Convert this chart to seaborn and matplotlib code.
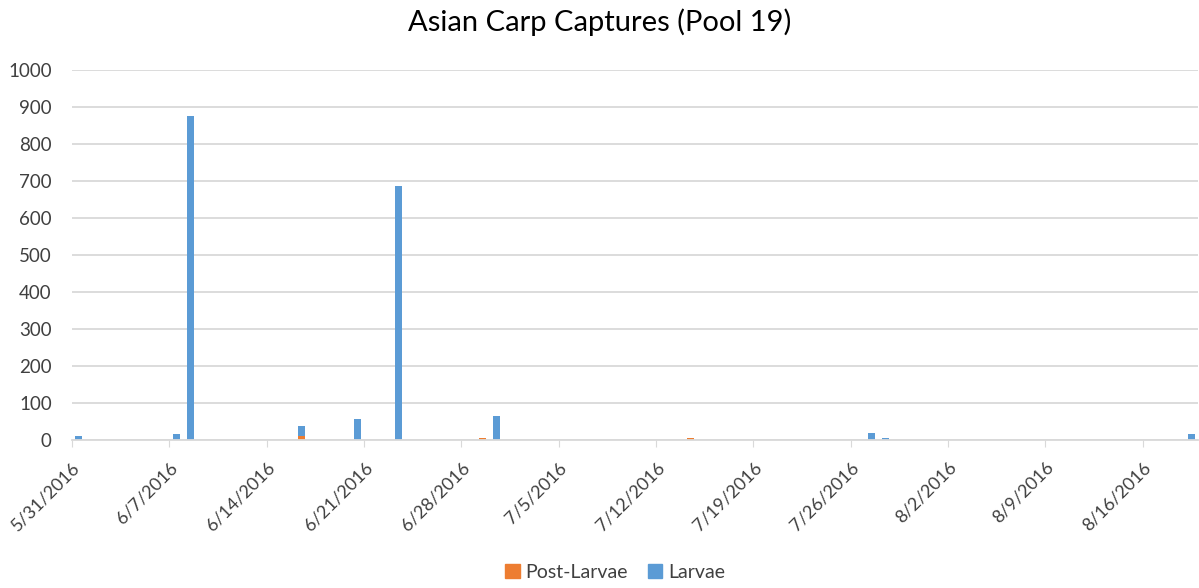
import numpy as np
import pandas as pd
import seaborn as sns
import matplotlib.pyplot as plt
from matplotlib.patches import Patch

# Dados (capturas por data)
datas = ['2016-05-31', '2016-06-07', '2016-06-08', '2016-06-16', '2016-06-20',
         '2016-06-23', '2016-06-29', '2016-06-30', '2016-07-14', '2016-07-27',
         '2016-07-28', '2016-08-19']
post_larvae = [0, 0, 0, 11, 0, 0, 4, 0, 4, 0, 0, 0]
larvae = [9, 16, 875, 26, 55, 685, 0, 65, 0, 18, 4, 16]

series = ['Post-Larvae', 'Larvae']
cores = {'Post-Larvae': '#ED7D31', 'Larvae': '#5B9BD5'}
rotulos_x = ['5/31/2016', '6/7/2016', '6/14/2016', '6/21/2016', '6/28/2016',
             '7/5/2016', '7/12/2016', '7/19/2016', '7/26/2016', '8/2/2016',
             '8/9/2016', '8/16/2016']
#--------------------------------------------------------------------------
inicio = pd.Timestamp('2016-05-31')
dias = np.asarray((pd.to_datetime(datas) - inicio).days)

df = pd.concat([
    pd.DataFrame({'dia': dias, 'n': post_larvae, 'serie': series[0]}),
    pd.DataFrame({'dia': dias, 'n': larvae, 'serie': series[1]}),
], ignore_index=True)

sns.set_style('white')
plt.rcParams['font.family'] = ['Lato', 'DejaVu Sans']

fig = plt.figure(figsize=(11.99, 5.88), dpi=100)
ax = fig.add_axes([0.060, 0.252, 0.9395, 0.629])

# pilha: primeiro nível do hue fica em cima, então a ordem é invertida
sns.histplot(data=df, x='dia', weights='n', hue='serie', hue_order=series[::-1],
             palette=cores, multiple='stack', binwidth=1, binrange=(0, 81),
             shrink=0.5, alpha=1, linewidth=0, legend=False, ax=ax)

ax.set_xlim(0, 81)
ax.set_ylim(0, 1000)
ax.set_yticks(np.arange(0, 1001, 100))
ax.yaxis.grid(True, color='#d9d9d9', linewidth=1.3)
ax.set_axisbelow(True)
for lado in ['top', 'right', 'left']:
    ax.spines[lado].set_visible(False)
ax.spines['bottom'].set_color('#d9d9d9')
ax.spines['bottom'].set_linewidth(1.3)

ax.set_xticks(np.arange(0, 81, 7))
ax.set_xticklabels(rotulos_x, rotation=45, ha='right', rotation_mode='anchor')
ax.tick_params(axis='x', bottom=True, length=5, color='#d9d9d9',
               labelsize=13, labelcolor='#404040', pad=9)
ax.tick_params(axis='y', left=False, labelsize=13.5, labelcolor='#404040', pad=11)
ax.set_xlabel('')
ax.set_ylabel('')

fig.suptitle('Asian Carp Captures (Pool 19)', fontsize=21, color='#000000', y=0.985)

handles = [Patch(color=cores[s], label=s) for s in series]
fig.legend(handles=handles, loc='lower center', bbox_to_anchor=(0.513, -0.018),
           ncol=2, frameon=False, fontsize=14, handlelength=0.75, handleheight=0.75,
           handletextpad=0.3, columnspacing=1.0, labelcolor='#404040')

fig.savefig('out.png', dpi=100)
